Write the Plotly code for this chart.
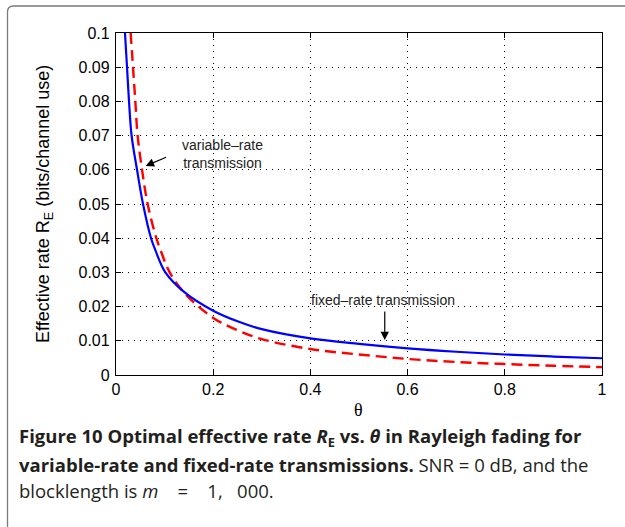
import plotly.graph_objects as go

# Data
theta_fixed = [0.0185, 0.0227, 0.0268, 0.0321, 0.0433, 0.0556, 0.0721, 0.081, 0.1016, 0.14,
               0.2, 0.25, 0.3, 0.4, 0.5, 0.6, 0.7, 0.8, 0.9, 1.0]
re_fixed = [0.1, 0.09, 0.08, 0.07, 0.06, 0.05, 0.04, 0.0365, 0.03, 0.0243,
            0.0188, 0.0157, 0.0134, 0.0107, 0.0091, 0.0078, 0.0068, 0.0060, 0.0054, 0.0049]

theta_var = [0.0301, 0.035, 0.0398, 0.0445, 0.0536, 0.0651, 0.083, 0.0917, 0.1105, 0.14,
             0.2, 0.25, 0.3, 0.4, 0.5, 0.6, 0.7, 0.8, 0.9, 1.0]
re_var = [0.1, 0.09, 0.08, 0.07, 0.06, 0.05, 0.04, 0.0365, 0.03, 0.0241,
          0.0167, 0.0131, 0.0105, 0.0076, 0.006, 0.0047, 0.0038, 0.0032, 0.0027, 0.0023]

x_ticks = [0, 0.2, 0.4, 0.6, 0.8, 1]
x_tick_labels = ["0", "0.2", "0.4", "0.6", "0.8", "1"]
y_ticks = [0, 0.01, 0.02, 0.03, 0.04, 0.05, 0.06, 0.07, 0.08, 0.09, 0.1]
y_tick_labels = ["0", "0.01", "0.02", "0.03", "0.04", "0.05", "0.06", "0.07", "0.08", "0.09", "0.1"]

W, H = 625, 527
L, R, T, B = 116, 23, 33, 152
PW, PH = W - L - R, H - T - B


def px(x):
    return (x - L) / PW


def py(y):
    return (H - B - y) / PH


fig = go.Figure()
fig.add_trace(go.Scatter(x=theta_var, y=re_var, mode="lines",
                         line=dict(color="#ff0000", width=2.4, dash="11px,6px", shape="spline", smoothing=1.0),
                         showlegend=False))
fig.add_trace(go.Scatter(x=theta_fixed, y=re_fixed, mode="lines",
                         line=dict(color="#0000ff", width=2.2, shape="spline", smoothing=1.0),
                         showlegend=False))

axis_common = dict(showline=True, linecolor="black", linewidth=1.3, mirror="allticks", ticks="inside", ticklen=5,
                   tickcolor="black", showgrid=True, gridcolor="black", griddash="1px,5px", gridwidth=1,
                   zeroline=False, tickfont=dict(family="Liberation Sans, Arial", size=16, color="black"))

fig.update_xaxes(range=[0, 1], tickvals=x_ticks, ticktext=x_tick_labels, **axis_common)
fig.update_yaxes(range=[0, 0.1], tickvals=y_ticks, ticktext=y_tick_labels, ticklabelstandoff=2, **axis_common)

ann = []
ann.append(dict(x=px(358), y=py(410), xref="paper", yref="paper", xanchor="center", yanchor="middle",
                text="θ", showarrow=False,
                font=dict(family="Liberation Serif, Times New Roman", size=18, color="black")))
ann.append(dict(x=px(44), y=py(204), xref="paper", yref="paper", xanchor="center", yanchor="middle",
                textangle=-90, text="Effective rate R<sub>E</sub> (bits/channel use)", showarrow=False,
                font=dict(family="Liberation Sans, Arial", size=18, color="black")))
# curve annotations (arrows)
ann.append(dict(x=0.061, y=0.0611, xref="x", yref="y", ax=22, ay=-9.5,
                text="", showarrow=True, arrowhead=2, arrowsize=1.4, arrowwidth=1.2, arrowcolor="black"))
ann.append(dict(x=px(222), y=py(154), xref="paper", yref="paper", xanchor="center", yanchor="middle",
                text="variable–rate<br>transmission",
                showarrow=False, align="center", font=dict(family="Liberation Sans, Arial", size=14, color="#222")))
ann.append(dict(x=0.553, y=0.0102, xref="x", yref="y", ax=0, ay=-30,
                text="", showarrow=True, arrowhead=2, arrowsize=1.4, arrowwidth=1.2, arrowcolor="black"))
ann.append(dict(x=px(383), y=py(300), xref="paper", yref="paper", xanchor="center", yanchor="middle",
                text="fixed–rate transmission",
                showarrow=False, font=dict(family="Liberation Sans, Arial", size=14, color="#222")))
# caption
cap_font = dict(family="Open Sans, sans-serif", size=18.5, color="#231f20")
ann.append(dict(x=px(17), y=py(437), xref="paper", yref="paper", xanchor="left", yanchor="middle",
                text="<b>Figure 10 Optimal effective rate <i>R</i><sub>E</sub> vs. <i>θ</i> in Rayleigh fading for</b>",
                showarrow=False, font=cap_font))
ann.append(dict(x=px(17), y=py(464), xref="paper", yref="paper", xanchor="left", yanchor="middle",
                text="<b>variable-rate and fixed-rate transmissions.</b> SNR = 0 dB, and the",
                showarrow=False, font=cap_font))
ann.append(dict(x=px(17), y=py(491), xref="paper", yref="paper", xanchor="left", yanchor="middle",
                text="blocklength is <i>m</i>&nbsp;&nbsp;&nbsp;&nbsp;=&nbsp;&nbsp;&nbsp;&nbsp;1,&nbsp;&nbsp;&nbsp;000.",
                showarrow=False, font=cap_font))

path = (f"M {px(7.5)},{py(527)} L {px(7.5)},{py(12)} Q {px(7.5)},{py(6)} {px(13.5)},{py(6)} "
        f"L {px(625)},{py(6)}")
shapes = [dict(type="path", xref="paper", yref="paper", path=path, line=dict(color="#7a7a7a", width=1.3))]

fig.update_layout(width=W, height=H, margin=dict(l=L, r=R, t=T, b=B, autoexpand=False),
                  plot_bgcolor="white", paper_bgcolor="white", annotations=ann, shapes=shapes)

fig.write_html("out.html")
